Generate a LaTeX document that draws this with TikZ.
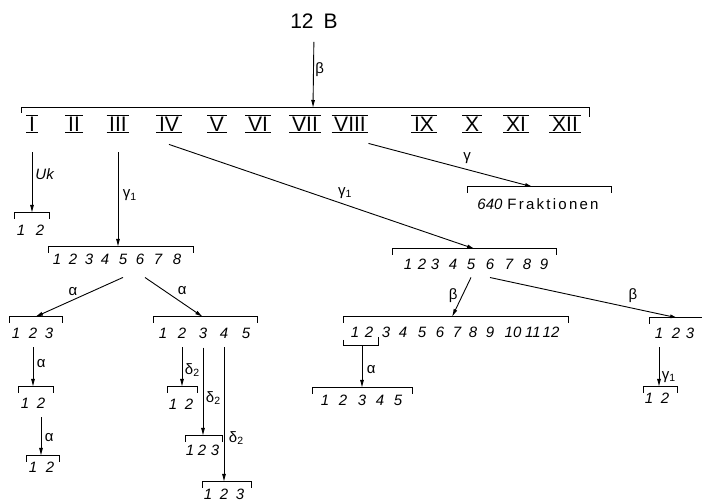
\documentclass[tikz,border=0pt]{standalone}
\usepackage{fontspec}
\setmainfont{Liberation Sans}
\usetikzlibrary{arrows.meta}

% bracket over a group of fractions: name, left x, right x, y, x of the arrow end
\newcommand{\fracbrk}[5]{%
  \draw[brk] (#2,#4+6) -- (#2,#4) -- (#3,#4) -- (#3,#4+6);
  \coordinate (#1) at (#5,#4);}

\begin{document}
\begin{tikzpicture}[x=1pt, y=-1pt,
    num/.style={font=\fontsize{15}{15}\selectfont\itshape, inner sep=1pt},
    lbl/.style={font=\fontsize{15}{15}\selectfont, inner sep=1.5pt},
    roman/.style={font=\fontsize{21}{21}\selectfont, inner xsep=2.5pt, inner ysep=1pt},
    brk/.style={line width=1pt},
    conn/.style={line width=0.9pt, -{Latex[length=8pt, width=4pt]}}]

    \useasboundingbox (0,0) rectangle (702,502);

    % Start material
    \node[font=\fontsize{21}{21}\selectfont] (tb) at (314,21) {12\hspace{10pt}B};

    % First separation
    \draw[brk] (21,113) -- (21,108) -- (589,108) -- (589,117);
    \coordinate (t) at (313,108);
    \draw[conn, shorten <=10pt] (tb.south) -- (t) node[lbl, midway, right] {β};

    % Fractions I--XII
    \foreach \r/\x in {I/32, II/74, III/118, IV/169, V/217, VI/258, VII/305,
                       VIII/350, IX/424, X/472, XI/516, XII/565} {
      \node[roman] (\r) at (\x,124) {\r};
      \draw[line width=1.4pt] (\r.north west) -- (\r.north east)
                              (\r.south west) -- (\r.south east);
    }

    % Fraction I
    \fracbrk{ua}{14}{49}{213}{32}
    \foreach \d/\x in {1/21, 2/40} \node[num] (ua\d) at (\x,230) {\d};
    \draw[conn, shorten <=20pt] (I.south) -- (ua) node[num, pos=0.52, right=2pt] {Uk};

    % Fraction III
    \fracbrk{g}{48}{193}{247}{118}
    \foreach \d/\x in {1/57, 2/73, 3/89, 4/105, 5/123, 6/140, 7/158, 8/177}
      \node[num] (g\d) at (\x,259) {\d};
    \draw[conn, shorten <=20pt] (III.south) -- (g) node[lbl, pos=0.55, right=3pt] {γ\textsubscript{1}};

    \fracbrk{ga}{9}{62}{317}{35}
    \foreach \d/\x in {1/16, 2/33, 3/49} \node[num] (ga\d) at (\x,333) {\d};
    \draw[conn] ([yshift=-12pt]g5.south) -- (ga) node[lbl, pos=0.57, above=2pt] {α};

    \fracbrk{gb}{153}{257}{317}{203}
    \foreach \d/\x in {1/163, 2/182, 3/203, 4/224, 5/246} \node[num] (gb\d) at (\x,333) {\d};
    \draw[conn] ([xshift=5pt, yshift=-12pt]g6.south) -- (gb) node[lbl, pos=0.64, above=6pt] {α};

    \fracbrk{gaa}{18}{53}{387}{33}
    \foreach \d/\x in {1/25, 2/41} \node[num] (gaa\d) at (\x,403) {\d};
    \draw[conn, shorten <=8pt] (ga2.south) -- (gaa) node[lbl, pos=0.5, right=2pt] {α};

    \fracbrk{gaaa}{26}{59}{456}{41}
    \foreach \d/\x in {1/33, 2/50} \node[num] (gaaa\d) at (\x,467) {\d};
    \draw[conn, shorten <=8pt] (gaa2.south) -- (gaaa) node[lbl, pos=0.6, right=2pt] {α};

    \fracbrk{gbd}{167}{197}{387}{182}
    \foreach \d/\x in {1/173, 2/189} \node[num] (gbd\d) at (\x,404) {\d};
    \draw[conn, shorten <=8pt] (gb2.south) -- (gbd) node[lbl, pos=0.65, right=1pt] {δ\textsubscript{2}};

    \fracbrk{gbe}{185}{222}{436}{203}
    \foreach \d/\x in {1/190, 2/202, 3/215} \node[num] (gbe\d) at (\x,450) {\d};
    \draw[conn, shorten <=8pt] (gb3.south) -- (gbe) node[lbl, pos=0.61, right=1pt] {δ\textsubscript{2}};

    \fracbrk{gbf}{202}{251}{482}{224}
    \foreach \d/\x in {1/208, 2/224, 3/240} \node[num] (gbf\d) at (\x,494) {\d};
    \draw[conn, shorten <=8pt] (gb4.south) -- (gbf) node[lbl, pos=0.69, right=3pt] {δ\textsubscript{2}};

    % Fraction VIII
    \fracbrk{f}{467}{611}{187}{533}
    \node[font=\fontsize{15}{15}\selectfont, inner sep=1pt] (fk) at (538,204)
      {\itshape 640\upshape\hspace{5pt}\addfontfeature{LetterSpace=15}Fraktionen};
    \draw[conn] ([yshift=-11pt]VIII.south east) -- (f) node[lbl, pos=0.6, above=4pt] {γ};

    % Fraction IV
    \fracbrk{h}{392}{556}{249}{475}
    \foreach \d/\x in {1/408, 2/422, 3/435, 4/453, 5/471, 6/490, 7/509, 8/527, 9/544}
      \node[num] (h\d) at (\x,264) {\d};
    \draw[conn] ([yshift=-12pt]IV.south) -- (h) node[lbl, pos=0.575, above=4pt] {γ\textsubscript{1}};

    \fracbrk{ha}{343}{568}{317}{452}
    \foreach \d/\x in {1/355, 2/369, 3/386, 4/403, 5/422, 6/440, 7/457, 8/473,
                       9/490, 10/513, 11/533, 12/551}
      \node[num] (ha\d) at (\x,332) {\d};
    \draw[conn] ([yshift=-7pt]h5.south) -- (ha) node[lbl, pos=0.45, left=3pt] {β};

    % fractions 1 and 2 pooled
    \draw[brk] (343,340) -- (343,346) -- (378,346) -- (378,337);
    \coordinate (hs) at (362,346);
    \fracbrk{hab}{312}{412}{388}{362}
    \foreach \d/\x in {1/325, 2/343, 3/362, 4/380, 5/398} \node[num] (hab\d) at (\x,400) {\d};
    \draw[conn] (hs) -- (hab) node[lbl, pos=0.55, right=3pt] {α};

    \draw[brk] (649,324) -- (649,318) -- (702,318);
    \coordinate (hb) at (678,318);
    \foreach \d/\x in {1/659, 2/676, 3/690} \node[num] (hb\d) at (\x,333) {\d};
    \draw[conn] ([yshift=-7pt]h6.south) -- (hb) node[lbl, pos=0.76, above=4pt] {β};

    \fracbrk{hbg}{643}{677}{387}{659}
    \foreach \d/\x in {1/649, 2/665} \node[num] (hbg\d) at (\x,398) {\d};
    \draw[conn, shorten <=8pt] (hb1.south) -- (hbg) node[lbl, pos=0.79, right=1pt] {γ\textsubscript{1}};
\end{tikzpicture}
\end{document}
